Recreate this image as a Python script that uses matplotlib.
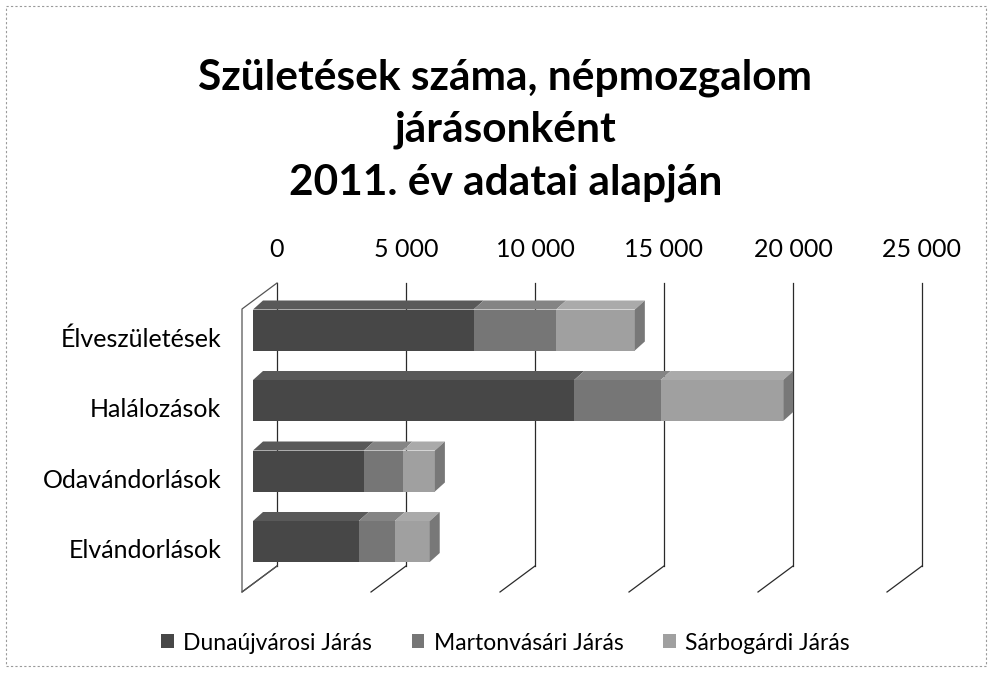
import numpy as np
import matplotlib
matplotlib.use("Agg")
import matplotlib.pyplot as plt
from matplotlib.patches import Polygon, Patch, Rectangle

# adatok
kategoriak = ["Élveszületések", "Halálozások", "Odavándorlások", "Elvándorlások"]
jarasok = ["Dunaújvárosi Járás", "Martonvásári Járás", "Sárbogárdi Járás"]
dunaujvarosi = [8550, 12450, 4300, 4100]
martonvasari = [3200, 3350, 1500, 1400]
sarbogardi = [3050, 4750, 1250, 1350]
tick_ertekek = [0, 5000, 10000, 15000, 20000, 25000]
tick_cimkek = ["0", "5 000", "10 000", "15 000", "20 000", "25 000"]

szinek = ["#474747", "#767676", "#a0a0a0"]

plt.rcParams['font.family'] = ['Lato', 'DejaVu Sans']

W, H = 995, 682
fig = plt.figure(figsize=(W / 100, H / 100), dpi=100)

# tengely = hátsó fal (pixelben mérve)
L, R, T, B = 277, 922, 283, 566
ax = fig.add_axes([L / W, 1 - B / H, (R - L) / W, (B - T) / H])
ax.set_xlim(0, 25000)
sor_px = 70.5          # két kategória közti távolság pixelben
y0_px = 330            # első sáv elejének közepe
ax.set_ylim((B - y0_px) / sor_px, (T - y0_px) / sor_px)

ux = 25000 / (R - L)   # érték / pixel
uy = 1 / sor_px

# 3D eltolások
fal_dx, fal_dy = 35 * ux, 26 * uy      # oldalfal / padló mélysége
elo_dx = 24 * ux                       # sávok eleje a hátsó falhoz képest
mely_dx, mely_dy = 10 * ux, 9 * uy     # sávok mélysége
magas = 41 * uy

ylo, yhi = ax.get_ylim()

# rácsvonalak + padló átlók
for v in tick_ertekek:
    ax.plot([v, v], [yhi, ylo], color="#2a2a2a", lw=0.9, zorder=1,
            clip_on=False)
    ax.plot([v, v - fal_dx], [ylo, ylo + fal_dy], color="#2a2a2a", lw=0.9,
            zorder=1, clip_on=False)
# bal oldalfal
ax.plot([0, -fal_dx, -fal_dx, 0], [yhi, yhi + fal_dy, ylo + fal_dy, ylo],
        color="#555555", lw=0.9, zorder=1, clip_on=False)


def vilagosit(c, f):
    c = np.array(matplotlib.colors.to_rgb(c))
    return tuple(c + (1 - c) * f) if f > 0 else tuple(c * (1 + f))


bal = np.zeros(len(kategoriak))
sorozatok = [dunaujvarosi, martonvasari, sarbogardi]
for k, (vals, c) in enumerate(zip(sorozatok, szinek)):
    vals = np.array(vals, dtype=float)
    y = np.arange(len(kategoriak))
    ax.barh(y, vals, left=bal - elo_dx, height=magas, color=c,
            edgecolor="none", zorder=3, clip_on=False)
    for i in range(len(kategoriak)):
        x0 = bal[i] - elo_dx
        x1 = x0 + vals[i]
        yt = y[i] - magas / 2
        yb = y[i] + magas / 2
        teto = Polygon([(x0, yt), (x1, yt), (x1 + mely_dx, yt - mely_dy),
                        (x0 + mely_dx, yt - mely_dy)], closed=True,
                       facecolor=vilagosit(c, 0.1), edgecolor="none",
                       zorder=3, clip_on=False)
        ax.add_patch(teto)
        if k == len(sorozatok) - 1:
            oldal = Polygon([(x1, yt), (x1 + mely_dx, yt - mely_dy),
                             (x1 + mely_dx, yb - mely_dy), (x1, yb)],
                            closed=True, facecolor=vilagosit(c, -0.25),
                            edgecolor="none", zorder=3, clip_on=False)
            ax.add_patch(oldal)
    bal = bal + vals

for s in ax.spines.values():
    s.set_visible(False)
ax.xaxis.tick_top()
ax.set_xticks(tick_ertekek)
ax.set_xticklabels(tick_cimkek, fontsize=18)
ax.tick_params(axis="x", length=0, pad=16)
ax.set_yticks(np.arange(len(kategoriak)) + 0.1)
ax.set_yticklabels(kategoriak, fontsize=18)
ax.tick_params(axis="y", length=0, pad=40)

fig.text(0.508, 1 - 130 / H,
         "Születések száma, népmozgalom\njárásonként\n2011. év adatai alapján",
         ha="center", va="center", fontsize=30.5, fontweight="bold",
         linespacing=1.45)

kezelok = [Patch(facecolor=c, edgecolor="none") for c in szinek]
fig.legend(kezelok, jarasok, loc="center", bbox_to_anchor=(0.508, 1 - 643 / H),
           ncol=3, frameon=False, fontsize=16.5, handlelength=0.55,
           handleheight=0.55, handletextpad=0.4, columnspacing=1.75)

fig.patches.append(Rectangle((6 / W, 1 - 666 / H), 980 / W, 660 / H,
                             transform=fig.transFigure, fill=False,
                             edgecolor="#9a9a9a", lw=0.8, ls=(0, (2, 2))))

fig.savefig("out.png", dpi=100, facecolor="white")
